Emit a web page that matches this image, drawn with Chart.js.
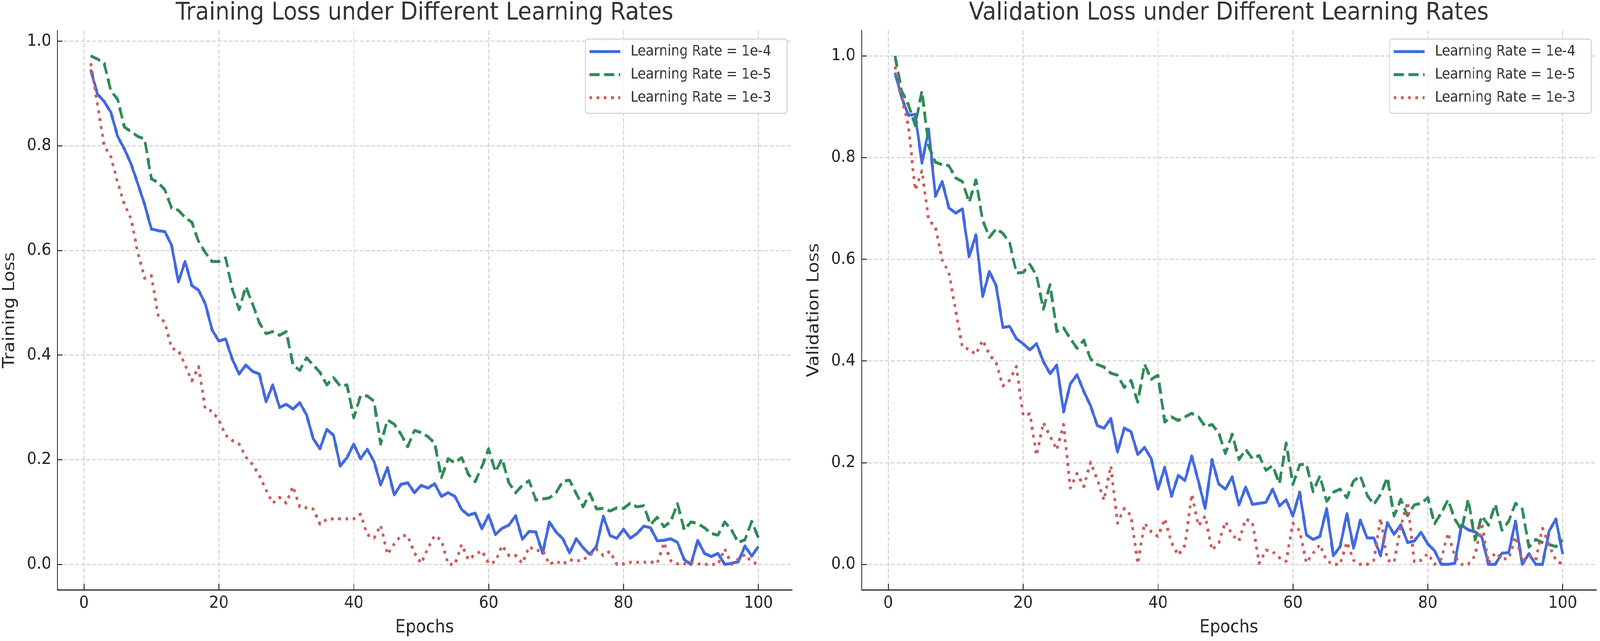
<!DOCTYPE html>
<html>
<head>
  <meta charset="UTF-8">
  <title>Training and Validation Loss under Different Learning Rates</title>
  <script src="https://cdn.jsdelivr.net/npm/chart.js"></script>
  <style>
    html, body {
      margin: 0;
      padding: 0;
      background: #ffffff;
      overflow: hidden;
    }
    #figure {
      position: absolute;
      left: 0;
      top: 0;
      width: 4496px;
      height: 1640px;
      transform-origin: 0 0;
    }
    .panel {
      position: absolute;
      top: 0;
      height: 1640px;
    }
    #leftPanel { left: 0; width: 2240px; }
    #rightPanel { left: 2240px; width: 2256px; }
  </style>
</head>
<body>
  <div id="figure">
    <div class="panel" id="leftPanel"><canvas id="trainChart"></canvas></div>
    <div class="panel" id="rightPanel"><canvas id="valChart"></canvas></div>
  </div>

  <script>
    // the figure is laid out at 4496x1640; stretch it onto the viewport the page really gets
    const fig = document.getElementById('figure');
    const sx = window.innerWidth / 4496;
    const sy = window.innerHeight / 1640;
    fig.style.transform = 'scale(' + sx + ',' + sy + ')';

    // epochs 1..100 on the x axis
    const epochs = Array.from({ length: 100 }, (_, i) => i + 1);
    const seriesLabels = ['Learning Rate = 1e-4', 'Learning Rate = 1e-5', 'Learning Rate = 1e-3'];

    const xTicks = [0, 20, 40, 60, 80, 100];
    const yTicks = [0.0, 0.2, 0.4, 0.6, 0.8, 1.0];

    // training loss (left panel)
    const trainLr4 = [
      0.946, 0.899, 0.885, 0.864, 0.818, 0.794, 0.765, 0.727, 0.688, 0.641,
      0.638, 0.636, 0.610, 0.540, 0.579, 0.533, 0.524, 0.498, 0.448, 0.427,
      0.431, 0.392, 0.364, 0.381, 0.369, 0.364, 0.311, 0.343, 0.300, 0.306,
      0.297, 0.309, 0.286, 0.240, 0.221, 0.258, 0.247, 0.188, 0.204, 0.230,
      0.202, 0.220, 0.197, 0.152, 0.185, 0.133, 0.153, 0.156, 0.137, 0.151,
      0.146, 0.154, 0.130, 0.137, 0.130, 0.105, 0.094, 0.098, 0.068, 0.094,
      0.057, 0.069, 0.075, 0.093, 0.048, 0.063, 0.062, 0.021, 0.081, 0.062,
      0.049, 0.022, 0.049, 0.032, 0.019, 0.035, 0.092, 0.055, 0.050, 0.067,
      0.050, 0.059, 0.073, 0.070, 0.045, 0.046, 0.049, 0.042, 0.009, 0.000,
      0.046, 0.021, 0.015, 0.021, 0.000, 0.002, 0.005, 0.035, 0.016, 0.034
    ];
    const trainLr5 = [
      0.972, 0.966, 0.958, 0.905, 0.889, 0.836, 0.827, 0.818, 0.813, 0.737,
      0.730, 0.716, 0.681, 0.677, 0.663, 0.654, 0.617, 0.596, 0.579, 0.579,
      0.586, 0.526, 0.487, 0.531, 0.498, 0.462, 0.441, 0.445, 0.438, 0.445,
      0.381, 0.371, 0.395, 0.381, 0.367, 0.343, 0.357, 0.341, 0.343, 0.280,
      0.322, 0.322, 0.312, 0.230, 0.276, 0.268, 0.249, 0.225, 0.256, 0.252,
      0.244, 0.232, 0.166, 0.202, 0.194, 0.204, 0.172, 0.158, 0.187, 0.221,
      0.177, 0.202, 0.156, 0.137, 0.151, 0.160, 0.123, 0.125, 0.127, 0.137,
      0.159, 0.161, 0.135, 0.110, 0.136, 0.106, 0.107, 0.102, 0.108, 0.107,
      0.117, 0.110, 0.112, 0.076, 0.090, 0.072, 0.082, 0.116, 0.066, 0.081,
      0.078, 0.070, 0.059, 0.056, 0.081, 0.066, 0.042, 0.047, 0.082, 0.051
    ];
    const trainLr3 = [
      0.958, 0.880, 0.800, 0.779, 0.730, 0.688, 0.660, 0.595, 0.547, 0.552,
      0.476, 0.462, 0.413, 0.409, 0.381, 0.351, 0.378, 0.297, 0.293, 0.276,
      0.247, 0.237, 0.230, 0.205, 0.191, 0.170, 0.142, 0.117, 0.128, 0.117,
      0.149, 0.110, 0.108, 0.106, 0.077, 0.086, 0.087, 0.087, 0.087, 0.087,
      0.096, 0.057, 0.050, 0.075, 0.019, 0.039, 0.055, 0.055, 0.022, 0.002,
      0.031, 0.055, 0.046, 0.000, 0.000, 0.038, 0.009, 0.019, 0.026, 0.002,
      0.005, 0.036, 0.017, 0.017, 0.002, 0.034, 0.026, 0.027, 0.000, 0.006,
      0.000, 0.009, 0.006, 0.009, 0.017, 0.029, 0.017, 0.025, 0.000, 0.001,
      0.004, 0.004, 0.004, 0.005, 0.002, 0.042, 0.007, 0.001, 0.001, 0.004,
      0.001, 0.000, 0.000, 0.000, 0.030, 0.000, 0.010, 0.019, 0.005, 0.000
    ];

    // validation loss (right panel)
    const valLr4 = [
      0.967, 0.918, 0.883, 0.885, 0.789, 0.856, 0.724, 0.753, 0.701, 0.691,
      0.699, 0.605, 0.648, 0.527, 0.576, 0.548, 0.466, 0.468, 0.444, 0.434,
      0.422, 0.434, 0.399, 0.375, 0.392, 0.300, 0.355, 0.373, 0.340, 0.312,
      0.273, 0.268, 0.287, 0.221, 0.268, 0.261, 0.216, 0.230, 0.208, 0.148,
      0.191, 0.134, 0.175, 0.165, 0.213, 0.163, 0.110, 0.206, 0.158, 0.148,
      0.172, 0.117, 0.152, 0.118, 0.120, 0.122, 0.148, 0.115, 0.127, 0.095,
      0.142, 0.058, 0.049, 0.055, 0.110, 0.017, 0.035, 0.100, 0.032, 0.087,
      0.052, 0.052, 0.017, 0.082, 0.059, 0.078, 0.043, 0.046, 0.063, 0.040,
      0.027, 0.000, 0.000, 0.002, 0.077, 0.068, 0.064, 0.054, 0.000, 0.000,
      0.022, 0.023, 0.085, 0.000, 0.021, 0.000, 0.000, 0.066, 0.089, 0.020
    ];
    const valLr5 = [
      1.000, 0.931, 0.904, 0.863, 0.931, 0.822, 0.791, 0.786, 0.784, 0.760,
      0.753, 0.712, 0.756, 0.677, 0.643, 0.660, 0.651, 0.633, 0.573, 0.574,
      0.590, 0.568, 0.502, 0.550, 0.458, 0.465, 0.444, 0.425, 0.441, 0.404,
      0.393, 0.388, 0.376, 0.372, 0.348, 0.362, 0.319, 0.394, 0.364, 0.372,
      0.280, 0.290, 0.283, 0.290, 0.297, 0.290, 0.271, 0.275, 0.259, 0.218,
      0.256, 0.206, 0.226, 0.208, 0.214, 0.185, 0.194, 0.159, 0.239, 0.157,
      0.196, 0.197, 0.143, 0.174, 0.124, 0.142, 0.148, 0.131, 0.164, 0.174,
      0.136, 0.118, 0.138, 0.171, 0.095, 0.128, 0.096, 0.117, 0.120, 0.131,
      0.080, 0.101, 0.127, 0.089, 0.068, 0.128, 0.048, 0.095, 0.077, 0.118,
      0.067, 0.085, 0.120, 0.109, 0.034, 0.049, 0.043, 0.039, 0.035, 0.048
    ];
    const valLr3 = [
      0.979, 0.918, 0.863, 0.736, 0.774, 0.677, 0.664, 0.598, 0.574, 0.499,
      0.427, 0.423, 0.413, 0.441, 0.413, 0.396, 0.351, 0.362, 0.389, 0.293,
      0.296, 0.214, 0.279, 0.252, 0.225, 0.275, 0.150, 0.179, 0.153, 0.201,
      0.167, 0.126, 0.194, 0.081, 0.110, 0.096, 0.001, 0.081, 0.064, 0.055,
      0.090, 0.043, 0.018, 0.038, 0.138, 0.076, 0.095, 0.028, 0.042, 0.084,
      0.058, 0.046, 0.089, 0.083, 0.002, 0.028, 0.025, 0.013, 0.006, 0.081,
      0.066, 0.003, 0.022, 0.039, 0.007, 0.000, 0.000, 0.044, 0.008, 0.000,
      0.000, 0.008, 0.091, 0.008, 0.004, 0.075, 0.123, 0.005, 0.008, 0.021,
      0.000, 0.011, 0.062, 0.016, 0.000, 0.000, 0.017, 0.082, 0.002, 0.023,
      0.011, 0.011, 0.055, 0.007, 0.016, 0.008, 0.071, 0.037, 0.008, 0.000
    ];

    const FONT = 'DejaVu Sans';
    const TEXT = '#262626';

    // legend box drawn inside the plot, upper right (like matplotlib's loc="upper right")
    const boxLegend = {
      id: 'boxLegend',
      afterDatasetsDraw(chart) {
        const { ctx, chartArea } = chart;
        const w = 567, h = 190;
        const x = chartArea.right - 13 - w;
        const y = chartArea.top + 22;
        ctx.save();
        ctx.beginPath();
        ctx.roundRect(x, y, w, h, 8);
        ctx.fillStyle = 'rgba(255,255,255,0.8)';
        ctx.fill();
        ctx.lineWidth = 3;
        ctx.strokeStyle = '#d4d4d4';
        ctx.stroke();

        ctx.font = '37px "' + FONT + '"';
        ctx.textBaseline = 'middle';
        ctx.textAlign = 'left';
        chart.data.datasets.forEach((ds, i) => {
          const cy = y + 32 + i * 59;
          ctx.beginPath();
          ctx.setLineDash(ds.borderDash || []);
          ctx.lineWidth = ds.borderWidth;
          ctx.strokeStyle = ds.borderColor;
          ctx.moveTo(x + 11, cy);
          ctx.lineTo(x + 98, cy);
          ctx.stroke();
          ctx.setLineDash([]);
          ctx.fillStyle = '#333333';
          ctx.fillText(ds.label, x + 127, cy);
        });
        ctx.restore();
      }
    };

    function makeSeries(values, i) {
      const styles = [
        { color: '#4169E1', dash: [], order: 3 },
        { color: '#2E8B57', dash: [29, 12.5], order: 2 },
        { color: '#CD5C5C', dash: [7.7, 12.7], order: 1 }
      ];
      return {
        label: seriesLabels[i],
        data: values.map((v, j) => ({ x: epochs[j], y: v })),
        borderColor: styles[i].color,
        backgroundColor: styles[i].color,
        borderWidth: 7.7,
        borderDash: styles[i].dash,
        borderJoinStyle: 'round',
        order: styles[i].order,
        pointRadius: 0,
        tension: 0,
        fill: false
      };
    }

    function axisGrid() {
      return {
        color: '#cfcfcf',
        lineWidth: 2.5,
        tickLength: -15,       // negative -> tick marks point into the plot
        tickColor: TEXT,
        tickWidth: 2.5,
        tickBorderDash: []
      };
    }

    function lossChart(canvasId, title, yTitle, series, yMin, yMax, yAxisWidth, yTitlePad, rightPad) {
      return new Chart(document.getElementById(canvasId), {
        type: 'line',
        data: { datasets: series.map(makeSeries) },
        options: {
          responsive: true,
          maintainAspectRatio: false,
          animation: false,
          layout: { padding: { left: 0, right: rightPad, top: 0, bottom: 0 } },
          plugins: {
            legend: { display: false },
            tooltip: { enabled: false },
            title: {
              display: true,
              text: title,
              fullSize: false,
              color: '#333333',
              font: { family: FONT, size: 63, weight: 'normal', lineHeight: 1.0 },
              padding: { top: 2, bottom: 13 }
            }
          },
          scales: {
            x: {
              type: 'linear',
              min: -3.95,
              max: 104.95,
              afterBuildTicks: sc => { sc.ticks = xTicks.map(v => ({ value: v })); },
              afterFit: sc => { sc.height = 131; },
              ticks: {
                callback: v => String(v),
                font: { family: FONT, size: 43 },
                color: TEXT,
                padding: 24,
                maxRotation: 0,
                autoSkip: false
              },
              grid: axisGrid(),
              border: { display: true, color: TEXT, width: 3, dash: [11, 5] },
              title: {
                display: true,
                text: 'Epochs',
                color: TEXT,
                font: { family: FONT, size: 46 },
                padding: { top: 0, bottom: 6 }
              }
            },
            y: {
              type: 'linear',
              min: yMin,
              max: yMax,
              afterBuildTicks: sc => { sc.ticks = yTicks.map(v => ({ value: v })); },
              afterFit: sc => { sc.width = yAxisWidth; },
              ticks: {
                callback: v => Number(v).toFixed(1),
                font: { family: FONT, size: 43 },
                color: TEXT,
                padding: 32
              },
              grid: axisGrid(),
              border: { display: true, color: TEXT, width: 3, dash: [11, 5] },
              title: {
                display: true,
                text: yTitle,
                color: TEXT,
                font: { family: FONT, size: 46 },
                padding: { top: yTitlePad, bottom: 0 }
              }
            }
          }
        },
        plugins: [boxLegend]
      });
    }

    lossChart('trainChart', 'Training Loss under Different Learning Rates', 'Training Loss',
      [trainLr4, trainLr5, trainLr3], -0.0486, 1.0206, 161, 0, 15);

    lossChart('valChart', 'Validation Loss under Different Learning Rates', 'Validation Loss',
      [valLr4, valLr5, valLr3], -0.05, 1.05, 181, 20, 11);
  </script>
</body>
</html>
